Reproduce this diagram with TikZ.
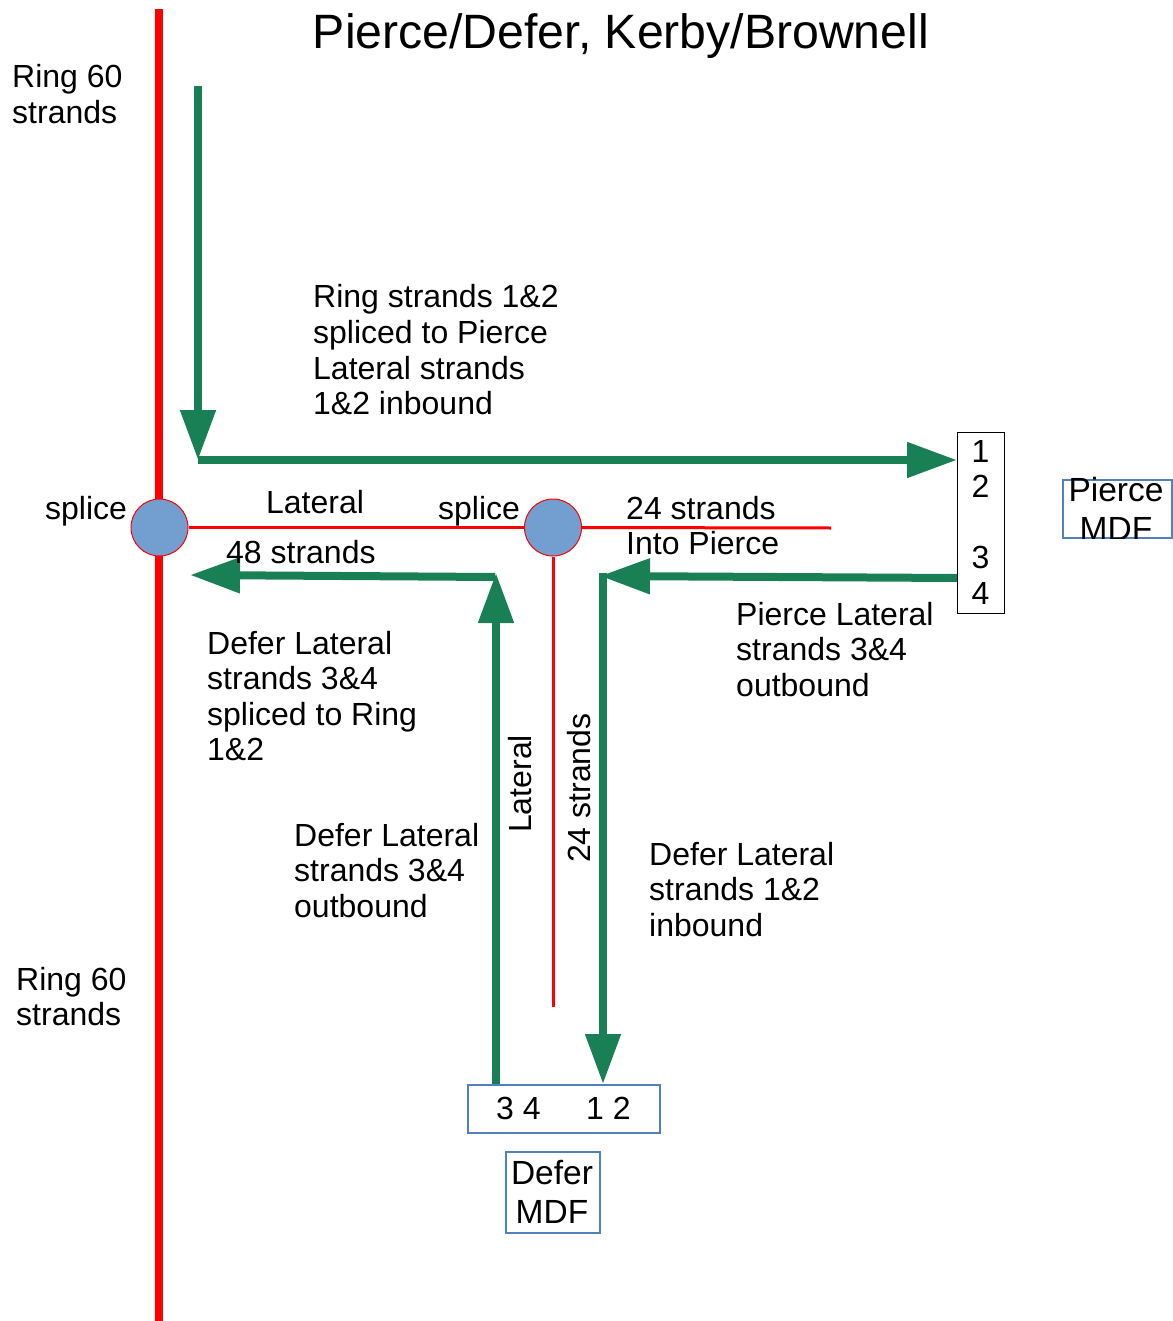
\documentclass[tikz,border=0pt]{standalone}
\usepackage{fontspec}
\setmainfont{Liberation Sans}
\usetikzlibrary{arrows.meta}
\definecolor{lgreen}{RGB}{24,128,84}
\definecolor{sred}{RGB}{255,0,0}
\definecolor{cblue}{RGB}{114,159,207}
\definecolor{bblue}{RGB}{80,128,192}
\newcommand{\mlines}[2][l]{\begin{tabular}[t]{@{}#1@{}}#2\end{tabular}}
\begin{document}
\begin{tikzpicture}[x=1pt,y=1pt,
  txt/.style={font=\fontsize{32}{35.5}\selectfont, inner sep=0pt, anchor=base west},
  big/.style={font=\fontsize{33.5}{39}\selectfont, inner sep=0pt, anchor=base},
  garrow/.style={draw=lgreen, line width=8pt, -{Triangle[length=50pt,width=34pt]}},
  ringline/.style={draw=sred, line width=8pt},
  latline/.style={draw=sred, line width=3pt},
  splice/.style={circle, fill=cblue, draw=sred, line width=1pt, minimum size=57pt, inner sep=0pt},
  bluebox/.style={draw=bblue, line width=1.5pt, inner sep=0pt},
  blackbox/.style={draw=black, line width=1.2pt, inner sep=0pt}]
\useasboundingbox (0,0) rectangle (1172,-1321);

% title
\node[font=\fontsize{48.2}{54}\selectfont, inner sep=0pt, anchor=base] (title) at (621,-49) {Pierce/Defer, Kerby/Brownell};

% ring
\coordinate (ringtop) at (159,-9);
\coordinate (ringbot) at (159,-1321);
\draw[ringline] (ringtop) -- (ringbot);

% splices and lateral
\node[splice] (splL) at (159.5,-527.5) {};
\node[splice] (splR) at (553,-527.5) {};
\coordinate (latend) at (831,-528);
\coordinate (latbot) at (553,-1007);
\draw[latline] (splL.east) -- (splR.west);
\draw[latline] (splR.east) -- (latend);
\draw[latline] (splR.south) -- (latbot);

% boxes
\node[blackbox, minimum width=47pt, minimum height=181pt, anchor=north west] (pbox) at (957,-432) {};
\node[bluebox, minimum width=109pt, minimum height=58pt, anchor=north west] (pmdf) at (1062,-479) {};
\node[bluebox, minimum width=192pt, minimum height=48pt, anchor=north west] (dbox) at (467,-1084) {};
\node[bluebox, minimum width=94pt, minimum height=81pt, anchor=north west] (dmdf) at (505,-1151) {};

% green arrows
\coordinate (gtop) at (198,-86);
\coordinate (gcorner) at (198,-460);
\draw[garrow] (gtop) -- (gcorner);
\draw[garrow] (gcorner) -- (gcorner -| pbox.west);

\coordinate (pout) at (957,-578);
\coordinate (pcorner) at (600,-576);
\coordinate (dintop) at (603,-573);
\draw[garrow] (pout) -- (pcorner);
\draw[garrow] (dintop) -- (dintop |- dbox.north);

\coordinate (doutbot) at (496,-1084);
\coordinate (doutcorner) at (496,-573);
\coordinate (dhstart) at (495,-577);
\coordinate (dhend) at (190,-575);
\draw[garrow] (doutbot) -- (doutcorner);
\draw[garrow] (dhstart) -- (dhend);

% box texts
\node[txt, anchor=base] (pnum) at (980.5,-462) {\mlines[c]{1\\2\\ \\3\\4}};
\begin{scope}
\clip (pmdf.south west) rectangle ([yshift=30pt]pmdf.north east);
\node[big] (pmdftxt) at (1116,-501) {\mlines[c]{Pierce\\MDF}};
\end{scope}
\node[txt] (d34) at (496,-1119) {3 4};
\node[txt] (d12) at (586,-1119) {1 2};
\node[big] (dmdftxt) at (552,-1184) {\mlines[c]{Defer\\MDF}};

% labels
\node[txt] (ring1) at (12,-88) {\mlines{Ring 60\\strands}};
\node[txt] (ring2) at (16,-990) {\mlines{Ring 60\\strands}};
\node[txt] (spl1) at (45,-519) {splice};
\node[txt, anchor=base] (lat1) at (315,-513) {Lateral};
\node[txt] (spl2) at (438,-519) {splice};
\node[txt] (into) at (626,-519) {\mlines{24 strands\\Into Pierce}};
\node[txt] (s48) at (226,-563) {48 strands};
\node[txt] (ringsp) at (313,-308) {\mlines{Ring strands 1\&2\\spliced to Pierce\\Lateral strands\\1\&2 inbound}};
\node[txt] (pl34) at (736,-625) {\mlines{Pierce Lateral\\strands 3\&4\\outbound}};
\node[txt] (dl34s) at (207,-654) {\mlines{Defer Lateral\\strands 3\&4\\spliced to Ring\\1\&2}};
\node[txt] (dl34o) at (294,-846) {\mlines{Defer Lateral\\strands 3\&4\\outbound}};
\node[txt] (dl12) at (649,-865) {\mlines{Defer Lateral\\strands 1\&2\\inbound}};
\node[txt, rotate=90] (latv) at (531,-833) {Lateral};
\node[txt, rotate=90] (s24v) at (590,-863) {24 strands};
\end{tikzpicture}
\end{document}
